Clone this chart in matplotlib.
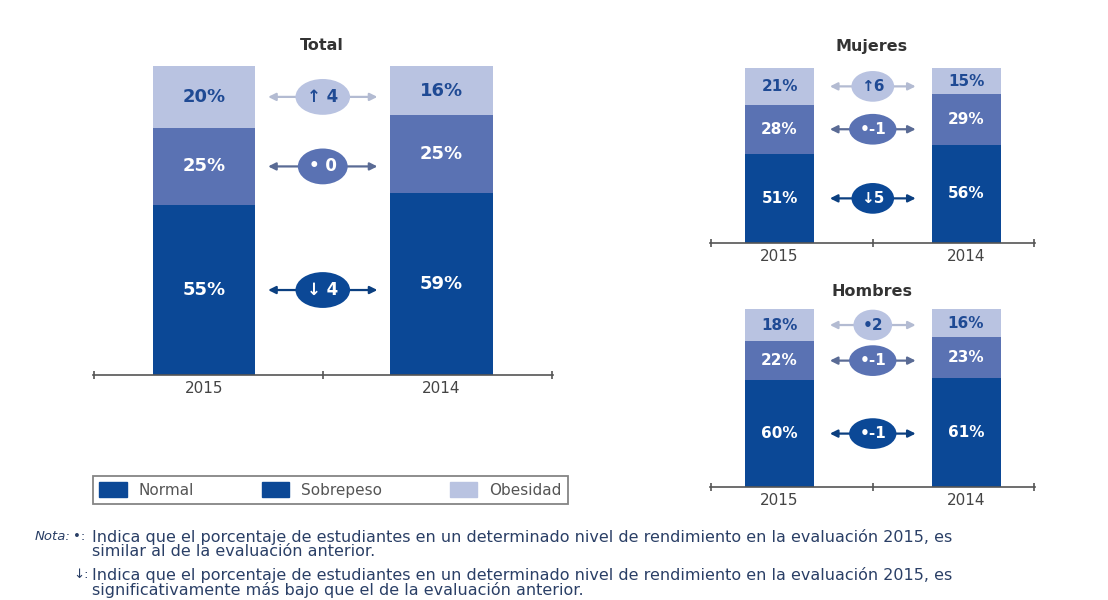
import matplotlib.pyplot as plt
from matplotlib.patches import Patch

# Data
years = ['2015', '2014']
categories = ['Normal', 'Sobrepeso', 'Obesidad']
total_2015 = [55, 25, 20]
total_2014 = [59, 25, 16]
mujeres_2015 = [51, 28, 21]
mujeres_2014 = [56, 29, 15]
hombres_2015 = [60, 22, 18]
hombres_2014 = [61, 23, 16]
total_diff = ['↓ 4', '• 0', '↑ 4']
mujeres_diff = ['↓5', '•-1', '↑6']
hombres_diff = ['•-1', '•-1', '•2']

colors = ['#0b4896', '#5a72b3', '#b9c3e1']
text_colors = ['white', 'white', '#1f4a94']
arrow_colors = ['#0b3f80', '#5a6b95', '#b3bbd2']

W, H = 1108, 600
fig = plt.figure(figsize=(W / 100, H / 100), dpi=100)


def px_axes(x0, x1, y_top, y_bottom):
    # axes from pixel box (origin top-left)
    return fig.add_axes([x0 / W, 1 - y_bottom / H, (x1 - x0) / W, (y_bottom - y_top) / H])


def draw_panel(ax, v15, v14, diffs, xlim, width, fs, efs, arrow_span):
    for i, vals in enumerate([v15, v14]):
        bottom = 0
        for k, v in enumerate(vals):
            ax.bar(i, v, width=width, bottom=bottom, color=colors[k], linewidth=0)
            ax.text(i, bottom + v / 2, f'{v}%', ha='center', va='center', color=text_colors[k],
                    fontsize=fs, fontweight='bold')
            bottom += v
    # change indicators between bars
    bottom = 0
    for k, d in enumerate(diffs):
        y = bottom + v15[k] / 2
        bottom += v15[k]
        ax.annotate('', xy=(arrow_span[0], y), xytext=(arrow_span[1], y),
                    arrowprops=dict(arrowstyle='<|-|>', color=arrow_colors[k], lw=1.6,
                                    mutation_scale=11, shrinkA=0, shrinkB=0), zorder=2)
        ax.text(0.5, y, d, ha='center', va='center', color=text_colors[k], fontsize=efs,
                fontweight='bold', zorder=3,
                bbox=dict(boxstyle='ellipse,pad=0.22', fc=colors[k], ec='none'))
    ax.set_xlim(*xlim)
    ax.set_ylim(0, 100)
    for s in ['top', 'right', 'left']:
        ax.spines[s].set_visible(False)
    ax.spines['bottom'].set_color('#555555')
    ax.spines['bottom'].set_linewidth(1.2)
    ax.set_yticks([])
    ax.set_xticks([0, 1])
    ax.set_xticklabels(years, fontsize=11, color='#444444')
    ax.tick_params(axis='x', length=0, pad=4)
    ax.set_xticks([xlim[0] + 0.005, 0.5, xlim[1] - 0.005], minor=True)
    ax.tick_params(axis='x', which='minor', length=6, width=1.2, color='#555555', direction='inout')


ax_total = px_axes(93, 553, 66, 375)
draw_panel(ax_total, total_2015, total_2014, total_diff, (-0.467, 1.469), 0.43, 13, 12, (0.27, 0.73))
fig.text(322 / W, 1 - 46 / H, 'Total', ha='center', va='center', fontsize=11.5, fontweight='bold', color='#333333')

ax_muj = px_axes(710, 1035, 68, 243)
draw_panel(ax_muj, mujeres_2015, mujeres_2014, mujeres_diff, (-0.373, 1.37), 0.37, 11, 11, (0.27, 0.73))
fig.text(872 / W, 1 - 46 / H, 'Mujeres', ha='center', va='center', fontsize=11.5, fontweight='bold', color='#333333')

ax_hom = px_axes(710, 1035, 309, 487)
draw_panel(ax_hom, hombres_2015, hombres_2014, hombres_diff, (-0.373, 1.37), 0.37, 11, 11, (0.27, 0.73))
fig.text(872 / W, 1 - 292 / H, 'Hombres', ha='center', va='center', fontsize=11.5, fontweight='bold', color='#333333')

# legend (the original shows Normal and Sobrepeso with the same swatch colour)
handles = [Patch(color=colors[0]), Patch(color=colors[0]), Patch(color=colors[2])]
leg = fig.legend(handles, categories, loc='lower left', ncol=3, mode='expand',
                 bbox_to_anchor=(93 / W, 1 - 504 / H, 475 / W, 32 / H), fancybox=False,
                 edgecolor='#666666', fontsize=11, handlelength=1.8, handleheight=1.1,
                 borderaxespad=0, labelcolor='#555555')
leg.get_frame().set_linewidth(1.3)

note_color = '#2a3f66'
fig.text(35 / W, 1 - 537 / H, 'Nota:', fontsize=9.5, style='italic', color=note_color, va='center')
fig.text(73 / W, 1 - 537 / H, '•:', fontsize=9.5, color=note_color, va='center')
fig.text(73 / W, 1 - 575 / H, '↓:', fontsize=9.5, color=note_color, va='center')
lines = [
    (537, 'Indica que el porcentaje de estudiantes en un determinado nivel de rendimiento en la evaluación 2015, es'),
    (552, 'similar al de la evaluación anterior.'),
    (575, 'Indica que el porcentaje de estudiantes en un determinado nivel de rendimiento en la evaluación 2015, es'),
    (590, 'significativamente más bajo que el de la evaluación anterior.'),
]
for y, t in lines:
    fig.text(92 / W, 1 - y / H, t, fontsize=11.5, color=note_color, va='center')

fig.savefig('out.png', dpi=100)
